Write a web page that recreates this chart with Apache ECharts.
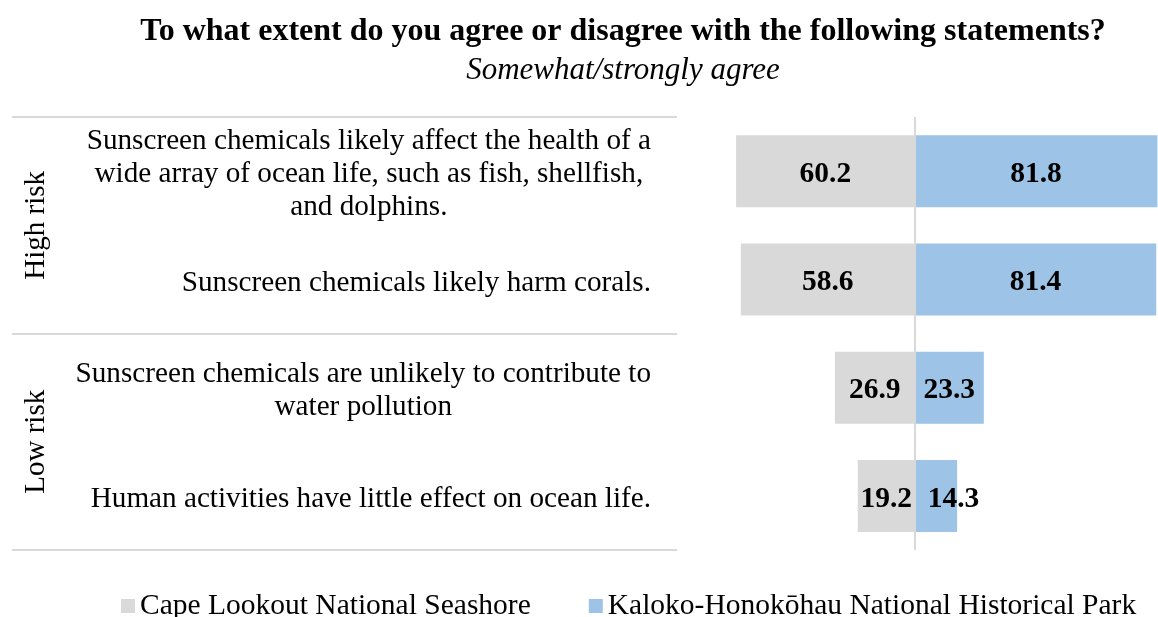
<!DOCTYPE html>
<html>
<head>
<meta charset="utf-8">
<script src="https://cdn.jsdelivr.net/npm/echarts@6/dist/echarts.min.js"></script>
<style>
  html, body { margin: 0; padding: 0; background: #fff; }
  #chart { width: 1158px; height: 617px; }
</style>
</head>
<body>
<div id="chart"></div>
<script>
// Statements (line breaks mark where each label wraps)
const categories = [
  'Sunscreen chemicals likely affect the health of a\nwide array of ocean life, such as fish, shellfish,\nand dolphins.',
  'Sunscreen chemicals likely harm corals.',
  'Sunscreen chemicals are unlikely to contribute to\nwater pollution',
  'Human activities have little effect on ocean life.'
];
const groups = ['High risk', 'Low risk'];
const seriesNames = ['Cape Lookout National Seashore', 'Kaloko-Honokōhau National Historical Park'];
// Percent who somewhat/strongly agree
const capeLookout = [60.2, 58.6, 26.9, 19.2];
const kaloko = [81.8, 81.4, 23.3, 14.3];

const FONT = '"Liberation Serif", "Times New Roman", serif';
const GRAY = '#d9d9d9';
const BLUE = '#9dc3e6';
const FS = 29.5;
const CAT_FS = 29.2;

const chart = echarts.init(document.getElementById('chart'), null, { renderer: 'canvas' });

const valueLabel = {
  show: true,
  position: 'inside',
  offset: [0, 3],
  fontFamily: FONT,
  fontWeight: 'bold',
  fontSize: FS,
  color: '#000',
  formatter: p => Math.abs(p.value).toFixed(1)
};

chart.setOption({
  animation: false,
  title: {
    text: 'To what extent do you agree or disagree with the following statements?',
    subtext: 'Somewhat/strongly agree',
    left: 623,
    textAlign: 'center',
    top: 16,
    itemGap: 7,
    padding: 0,
    textStyle: { fontFamily: FONT, fontWeight: 'bold', fontSize: 32, color: '#000' },
    subtextStyle: { fontFamily: FONT, fontStyle: 'italic', fontSize: 31, color: '#000' }
  },
  legend: {
    data: seriesNames,
    left: 121,
    top: 591,
    padding: 0,
    icon: 'rect',
    itemWidth: 14,
    itemHeight: 14,
    itemGap: 58,
    textStyle: { fontFamily: FONT, fontSize: FS, color: '#000' }
  },
  grid: { left: 707, top: 117, width: 456, height: 433 },
  xAxis: { type: 'value', min: -70, max: 82, show: false },
  yAxis: [
    {
      type: 'category',
      inverse: true,
      data: categories,
      axisLine: { show: false },
      axisTick: { show: false },
      axisLabel: {
        interval: 0,
        align: 'right',
        verticalAlign: 'middle',
        padding: [7, 0, 0, 0],
        margin: 56,
        fontFamily: FONT,
        fontSize: CAT_FS,
        color: '#000',
        lineHeight: 33,
        formatter: v => v.split('\n').map(s => '{c|' + s + '}').join('\n'),
        rich: { c: { align: 'center', fontFamily: FONT, fontSize: CAT_FS, color: '#000', lineHeight: 33 } }
      }
    },
    {
      type: 'category',
      inverse: true,
      data: groups,
      position: 'left',
      offset: 30,
      axisLine: { show: false },
      axisTick: { show: true, interval: 0, length: 665, lineStyle: { color: GRAY, width: 2 } },
      axisLabel: {
        interval: 0,
        rotate: 90,
        margin: 641,
        align: 'center',
        verticalAlign: 'middle',
        fontFamily: FONT,
        fontSize: 29,
        color: '#000'
      }
    }
  ],
  series: [
    {
      name: seriesNames[0],
      type: 'bar',
      data: capeLookout.map(v => -v),
      barWidth: 72,
      barGap: '-100%',
      itemStyle: { color: GRAY },
      label: valueLabel,
      markLine: {
        silent: true,
        symbol: 'none',
        label: { show: false },
        lineStyle: { color: GRAY, width: 2, type: 'solid' },
        data: [{ xAxis: 0 }]
      }
    },
    {
      name: seriesNames[1],
      type: 'bar',
      data: kaloko.map((v, i) => i === 3
        ? { value: v, label: { position: [13, '50%'], align: 'left', verticalAlign: 'middle' } }
        : v),
      barWidth: 72,
      barGap: '-100%',
      itemStyle: { color: BLUE },
      label: valueLabel
    }
  ]
});
</script>
</body>
</html>
